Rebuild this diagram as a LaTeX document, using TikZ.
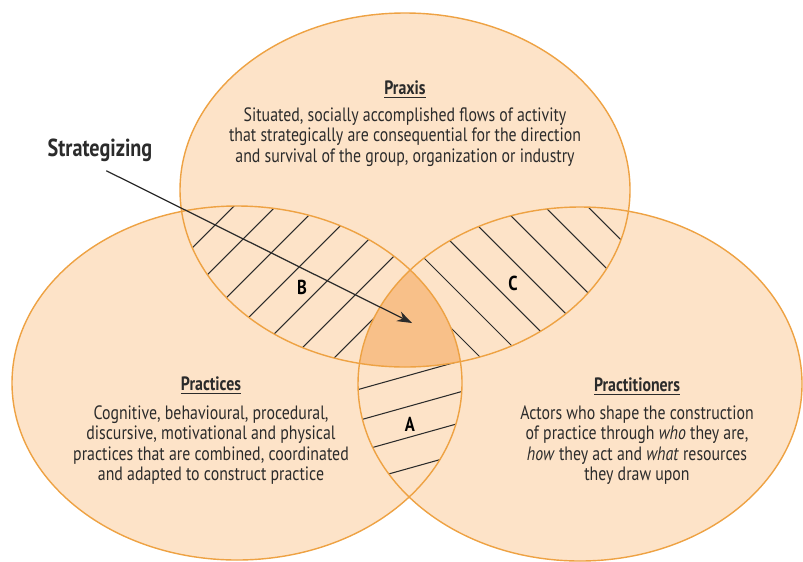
\documentclass[tikz,border=0pt]{standalone}
\usepackage{fontspec}
\setmainfont{PT Sans}[FakeStretch=0.82]
\usepackage{xcolor}
\definecolor{peach100}{HTML}{FDE3C8}
\definecolor{peach300}{HTML}{F8C089}
\definecolor{amber500}{HTML}{EEA243}
\definecolor{ink900}{HTML}{2B2B2B}
\usepackage{tikz}
\usetikzlibrary{arrows.meta, positioning}

\begin{document}
\begin{tikzpicture}[
    x=0.02cm, y=-0.02cm,
    font=\fontsize{11}{11.6}\selectfont,
    >=Stealth,
    text=ink900,
    hatch/.style={draw=ink900, line width=0.6pt},
    rim/.style={draw=amber500, line width=0.8pt},
    heading/.style={font=\fontsize{11}{13}\selectfont\bfseries, inner sep=1pt},
    blurb/.style={align=center, inner sep=0pt},
    tag/.style={font=\fontsize{11.5}{13}\selectfont\bfseries, text=black}
]
\useasboundingbox (0,0) rectangle (803,561);

% ── Circle centres ──
\coordinate (cpx) at (405,190);
\coordinate (cpc) at (237,383);
\coordinate (cpt) at (580,384);

% ── Base fills ──
\fill[peach100] (cpx) ellipse [x radius=225, y radius=177];
\fill[peach100] (cpc) ellipse [x radius=225, y radius=177];
\fill[peach100] (cpt) ellipse [x radius=222, y radius=177];

% ── B: Praxis / Practices overlap ──
\begin{scope}
  \clip (cpx) ellipse [x radius=225, y radius=177];
  \clip (cpc) ellipse [x radius=225, y radius=177];
  \foreach \c in {440,482,...,830}
    \draw[hatch] (\c-450,450) -- (\c-100,100);
\end{scope}

% ── C: Praxis / Practitioners overlap ──
\begin{scope}
  \clip (cpx) ellipse [x radius=225, y radius=177];
  \clip (cpt) ellipse [x radius=222, y radius=177];
  \foreach \c in {80,123,...,381}
    \draw[hatch] (\c+100,100) -- (\c+450,450);
\end{scope}

% ── A: Practices / Practitioners overlap ──
\begin{scope}
  \clip (cpc) ellipse [x radius=225, y radius=177];
  \clip (cpt) ellipse [x radius=222, y radius=177];
  \foreach \c in {344,375,...,499}
    \draw[hatch] (300,\c+30.8) -- (520,\c-30.8);
\end{scope}

% ── Strategizing core ──
\begin{scope}
  \clip (cpx) ellipse [x radius=225, y radius=177];
  \clip (cpc) ellipse [x radius=225, y radius=177];
  \fill[peach300] (cpt) ellipse [x radius=222, y radius=177];
\end{scope}

% ── Outlines ──
\draw[rim] (cpx) ellipse [x radius=225, y radius=177];
\draw[rim] (cpc) ellipse [x radius=225, y radius=177];
\draw[rim] (cpt) ellipse [x radius=222, y radius=177];

% ── Texts ──
\node[heading] (praxis) at (405,90) {\underline{Praxis}};
\node[blurb] (praxisTxt) at (405,137) {Situated, socially accomplished flows of activity\\that strategically are consequential for the direction\\and survival of the group, organization or industry};

\node[heading] (practices) at (211,386) {\underline{Practices}};
\node[blurb] (practicesTxt) at (211,445) {Cognitive, behavioural, procedural,\\discursive, motivational and physical\\practices that are combined, coordinated\\and adapted to construct practice};

\node[heading] (practitioners) at (637,387) {\underline{Practitioners}};
\node[blurb] (practitionersTxt) at (637,445) {Actors who shape the construction\\of practice through \emph{who} they are,\\\emph{how} they act and \emph{what} resources\\they draw upon};

\node[tag] (lblA) at (410,424) {A};
\node[tag] (lblB) at (302,287) {B};
\node[tag] (lblC) at (513,283) {C};

% ── Strategizing pointer ──
\node[tag, font=\fontsize{14}{16}\selectfont\bfseries, text=ink900] (strat) at (100,150) {Strategizing};
\coordinate (hit) at (412,323);
\draw[-{Stealth[length=8.5pt, width=6pt]}, line width=0.7pt, draw=ink900, shorten <=4pt] (strat.south) -- (hit);

\end{tikzpicture}
\end{document}
